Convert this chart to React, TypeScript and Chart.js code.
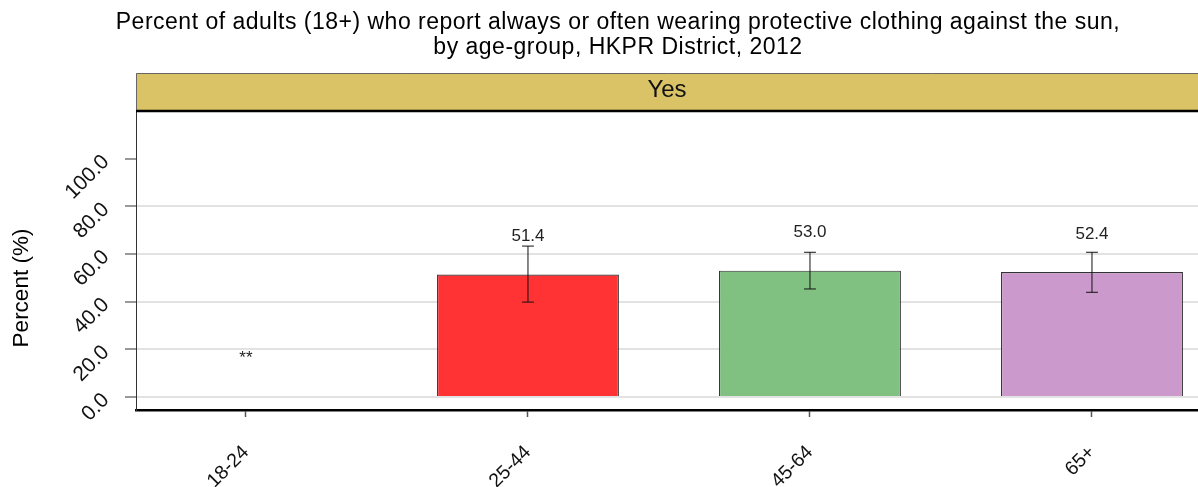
import React, { useEffect, useRef } from "react";
import { Chart, registerables } from "chart.js";

Chart.register(...registerables);

const categories = ["18-24", "25-44", "45-64", "65+"];
const percentValues: (number | null)[] = [null, 51.4, 53.0, 52.4];
const lowerCI: (number | null)[] = [null, 39.8, 45.3, 43.9];
const upperCI: (number | null)[] = [null, 63.3, 60.7, 60.7];
const valueLabels = ["**", "51.4", "53.0", "52.4"];
const barColors = ["#FF3333", "#FF3333", "#80C080", "#CC99CC"];
const yTickValues = [0, 20, 40, 60, 80, 100];
const titleLines = [
  "Percent of adults (18+) who report always or often wearing protective clothing against the sun,",
  "by age-group, HKPR District, 2012",
];
const stripLabel = "Yes";
const yAxisTitle = "Percent (%)";

const FONT = "'Liberation Sans', Arial, sans-serif";

const decorPlugin = {
  id: "decor",
  afterDatasetsDraw(chart: any) {
    const ctx = chart.ctx;
    const xs = chart.scales.x;
    const ys = chart.scales.y;
    const unit = xs.getPixelForValue(2) - xs.getPixelForValue(1);
    const cap = unit * 0.021;
    ctx.save();
    // error bars
    ctx.strokeStyle = "#111";
    ctx.lineWidth = 1;
    categories.forEach((_, i) => {
      const lo = lowerCI[i];
      const hi = upperCI[i];
      if (lo == null || hi == null) return;
      const x = xs.getPixelForValue(i + 1);
      const y1 = ys.getPixelForValue(lo);
      const y2 = ys.getPixelForValue(hi);
      ctx.beginPath();
      ctx.moveTo(x, y1);
      ctx.lineTo(x, y2);
      ctx.moveTo(x - cap, y1);
      ctx.lineTo(x + cap, y1);
      ctx.moveTo(x - cap, y2);
      ctx.lineTo(x + cap, y2);
      ctx.stroke();
    });
    // value labels
    ctx.fillStyle = "#222";
    ctx.font = `17px ${FONT}`;
    ctx.textAlign = "center";
    ctx.textBaseline = "middle";
    categories.forEach((_, i) => {
      const v = percentValues[i] ?? 0;
      const x = xs.getPixelForValue(i + 1);
      const y = ys.getPixelForValue(v + 16);
      ctx.fillText(valueLabels[i], x, y);
    });
    ctx.restore();
  },
  afterDraw(chart: any) {
    const ctx = chart.ctx;
    const area = chart.chartArea;
    ctx.save();
    // strip
    const stripTop = 73;
    ctx.fillStyle = "#D9C366";
    ctx.fillRect(area.left, stripTop, area.right - area.left, area.top - stripTop);
    ctx.strokeStyle = "#666";
    ctx.lineWidth = 1;
    ctx.beginPath();
    ctx.moveTo(area.left + 0.5, area.top);
    ctx.lineTo(area.left + 0.5, stripTop + 0.5);
    ctx.lineTo(area.right, stripTop + 0.5);
    ctx.stroke();
    ctx.strokeStyle = "#000";
    ctx.lineWidth = 2.5;
    ctx.beginPath();
    ctx.moveTo(area.left, area.top);
    ctx.lineTo(area.right, area.top);
    ctx.stroke();
    ctx.fillStyle = "#111";
    ctx.font = `24px ${FONT}`;
    ctx.textAlign = "center";
    ctx.textBaseline = "middle";
    ctx.fillText(stripLabel, (area.left + area.right) / 2, 90.5);
    // title
    ctx.fillStyle = "#000";
    ctx.font = `23px ${FONT}`;
    (ctx as any).letterSpacing = "0.5px";
    ctx.textBaseline = "alphabetic";
    ctx.fillText(titleLines[0], 618, 29);
    ctx.fillText(titleLines[1], 618, 54);
    (ctx as any).letterSpacing = "0px";
    // y title
    ctx.translate(22, 288);
    ctx.rotate(-Math.PI / 2);
    ctx.font = `22.5px ${FONT}`;
    ctx.textBaseline = "middle";
    ctx.fillText(yAxisTitle, 0, 0);
    ctx.restore();
  },
};

export default function App() {
  const canvasRef = useRef<HTMLCanvasElement | null>(null);

  useEffect(() => {
    const canvas = canvasRef.current;
    if (!canvas) return;
    const chart = new Chart(canvas, {
      type: "bar",
      data: {
        datasets: [
          {
            data: categories.map((_, i) => ({ x: i + 1, y: percentValues[i] })) as any,
            backgroundColor: barColors,
            borderColor: "#333",
            borderWidth: 1.2,
            barPercentage: 0.645,
            categoryPercentage: 1,
          },
        ],
      },
      options: {
        animation: false,
        responsive: true,
        maintainAspectRatio: false,
        layout: { padding: { top: 111, left: 0, right: 0, bottom: 0 } },
        plugins: {
          legend: { display: false },
          tooltip: { enabled: false },
          title: { display: false },
        },
        scales: {
          x: {
            type: "linear",
            min: 0.61,
            max: 4.376,
            offset: false,
            afterBuildTicks: (s: any) => {
              s.ticks = categories.map((_, i) => ({ value: i + 1 }));
            },
            afterFit: (s: any) => {
              s.height = 77;
            },
            ticks: {
              autoSkip: false,
              minRotation: 45,
              maxRotation: 45,
              padding: 24,
              color: "#111",
              font: { family: FONT, size: 19.5 },
              callback: (v: any) => categories[Math.round(Number(v)) - 1] ?? "",
            },
            grid: {
              offset: false,
              drawOnChartArea: false,
              drawTicks: true,
              tickLength: 7,
              tickColor: "#555",
              tickWidth: 1.5,
            },
            border: { display: true, color: "#000", width: 2.5 },
          },
          y: {
            min: -5.5,
            max: 120,
            afterBuildTicks: (s: any) => {
              s.ticks = yTickValues.map((v) => ({ value: v }));
            },
            afterFit: (s: any) => {
              s.width = 136;
            },
            ticks: {
              minRotation: 45,
              maxRotation: 45,
              padding: 19,
              color: "#111",
              font: { family: FONT, size: 21 },
              callback: (v: any) => Number(v).toFixed(1),
            },
            grid: {
              color: (c: any) => (c.tick && c.tick.value === 100 ? "rgba(0,0,0,0)" : "#E2E2E2"),
              lineWidth: 2,
              tickLength: 11,
              tickColor: "#333",
              tickWidth: 1,
            },
            border: { display: true, color: "#333", width: 1 },
          },
        },
      },
      plugins: [decorPlugin],
    });
    return () => chart.destroy();
  }, []);

  return (
    <div style={{ position: "absolute", left: 0, top: 0, width: 1198, height: 487, background: "#fff" }}>
      <canvas ref={canvasRef} />
    </div>
  );
}
